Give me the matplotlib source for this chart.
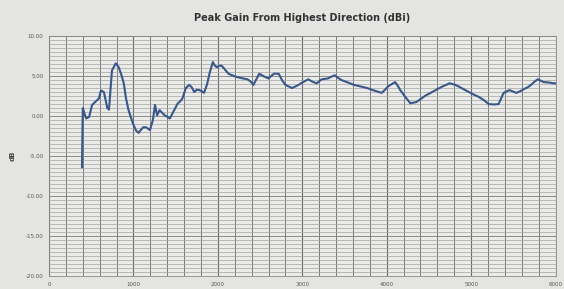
import matplotlib.pyplot as plt
from matplotlib.ticker import MultipleLocator

# frequency (MHz) and peak gain (dBi)
freq = [390, 395, 400, 420, 440, 475, 510, 560, 590, 615, 650, 670, 690, 710,
        745, 790, 825, 855, 885, 910, 940, 970, 1000, 1030, 1060, 1090, 1115,
        1150, 1175, 1195, 1230, 1255, 1280, 1310, 1340, 1370, 1400, 1430, 1465,
        1495, 1525, 1550, 1580, 1620, 1660, 1690, 1720, 1750, 1780, 1810, 1835,
        1870, 1905, 1940, 1965, 1990, 2015, 2045, 2085, 2125, 2170, 2220, 2260,
        2300, 2350, 2390, 2420, 2455, 2490, 2540, 2600, 2630, 2665, 2720, 2760,
        2800, 2840, 2880, 2955, 3000, 3070, 3120, 3170, 3230, 3300, 3340, 3385,
        3420, 3465, 3540, 3615, 3690, 3770, 3850, 3940, 3980, 4020, 4060, 4100,
        4130, 4160, 4220, 4280, 4350, 4410, 4465, 4520, 4580, 4660, 4745, 4815,
        4870, 4930, 5010, 5090, 5150, 5210, 5270, 5325, 5355, 5385, 5455, 5535,
        5580, 5630, 5670, 5710, 5750, 5790, 5860, 5920, 5975, 6000]
gain = [-6.4, -2.0, 1.0, 0.3, -0.3, -0.1, 1.4, 1.9, 2.2, 3.2, 3.0, 2.0, 1.0, 0.8,
        5.7, 6.6, 6.1, 5.2, 4.1, 2.3, 0.8, -0.2, -1.1, -1.8, -2.1, -1.7, -1.4,
        -1.4, -1.6, -1.75, -0.5, 1.4, 0.1, 0.75, 0.4, 0.1, -0.1, -0.3, 0.4,
        1.0, 1.6, 1.8, 2.2, 3.5, 3.9, 3.6, 3.0, 3.3, 3.25, 3.1, 2.9,
        3.9, 5.5, 6.75, 6.3, 6.1, 6.3, 6.3, 5.8, 5.3, 5.1, 4.9, 4.8,
        4.7, 4.6, 4.3, 3.9, 4.6, 5.3, 5.0, 4.7, 5.0, 5.3, 5.3, 4.5,
        3.9, 3.7, 3.5, 3.9, 4.2, 4.6, 4.3, 4.1, 4.6, 4.7, 4.9, 5.1,
        4.8, 4.5, 4.2, 3.9, 3.7, 3.5, 3.2, 2.9, 3.3, 3.75, 4.0, 4.25,
        3.8, 3.25, 2.4, 1.6, 1.75, 2.2, 2.6, 2.9, 3.25, 3.7, 4.1, 3.9,
        3.6, 3.25, 2.8, 2.4, 2.0, 1.5, 1.45, 1.5, 2.2, 2.9, 3.25, 2.9,
        3.1, 3.4, 3.6, 3.9, 4.3, 4.6, 4.25, 4.2, 4.1, 4.1]

fig = plt.figure(figsize=(5.64, 2.89), dpi=100, facecolor='#e4e4e2')
ax = fig.add_axes([0.087, 0.045, 0.898, 0.83])
ax.set_facecolor('#ebebe9')

ax.plot(freq, gain, color='#38588a', linewidth=1.5)

ax.set_xlim(0, 6000)
ax.set_ylim(-20, 10)
ax.xaxis.set_major_locator(MultipleLocator(1000))
ax.xaxis.set_minor_locator(MultipleLocator(200))
ax.yaxis.set_major_locator(MultipleLocator(5))
ax.yaxis.set_minor_locator(MultipleLocator(0.5))
ax.yaxis.set_major_formatter(lambda v, p: '%.2f' % v)
ax.grid(which='major', axis='x', color='#6a6a6a', linewidth=0.8)
ax.grid(which='minor', axis='x', color='#7a7a7a', linewidth=0.7)
ax.grid(which='major', axis='y', color='#8a8a8a', linewidth=0.7)
ax.grid(which='minor', axis='y', color='#a4a4a4', linewidth=0.5)
ax.set_axisbelow(True)
ax.tick_params(which='both', length=0, labelsize=4, colors='#555555', pad=4)
for s in ax.spines.values():
    s.set_color('#888888')
    s.set_linewidth(0.6)

ax.set_ylabel('dB', fontsize=5, fontweight='bold', color='#444444', labelpad=7)
ax.set_title('Peak Gain From Highest Direction (dBi)', fontsize=7,
             fontweight='bold', color='#333333', pad=11)

fig.savefig('out.png', dpi=100, facecolor=fig.get_facecolor())
